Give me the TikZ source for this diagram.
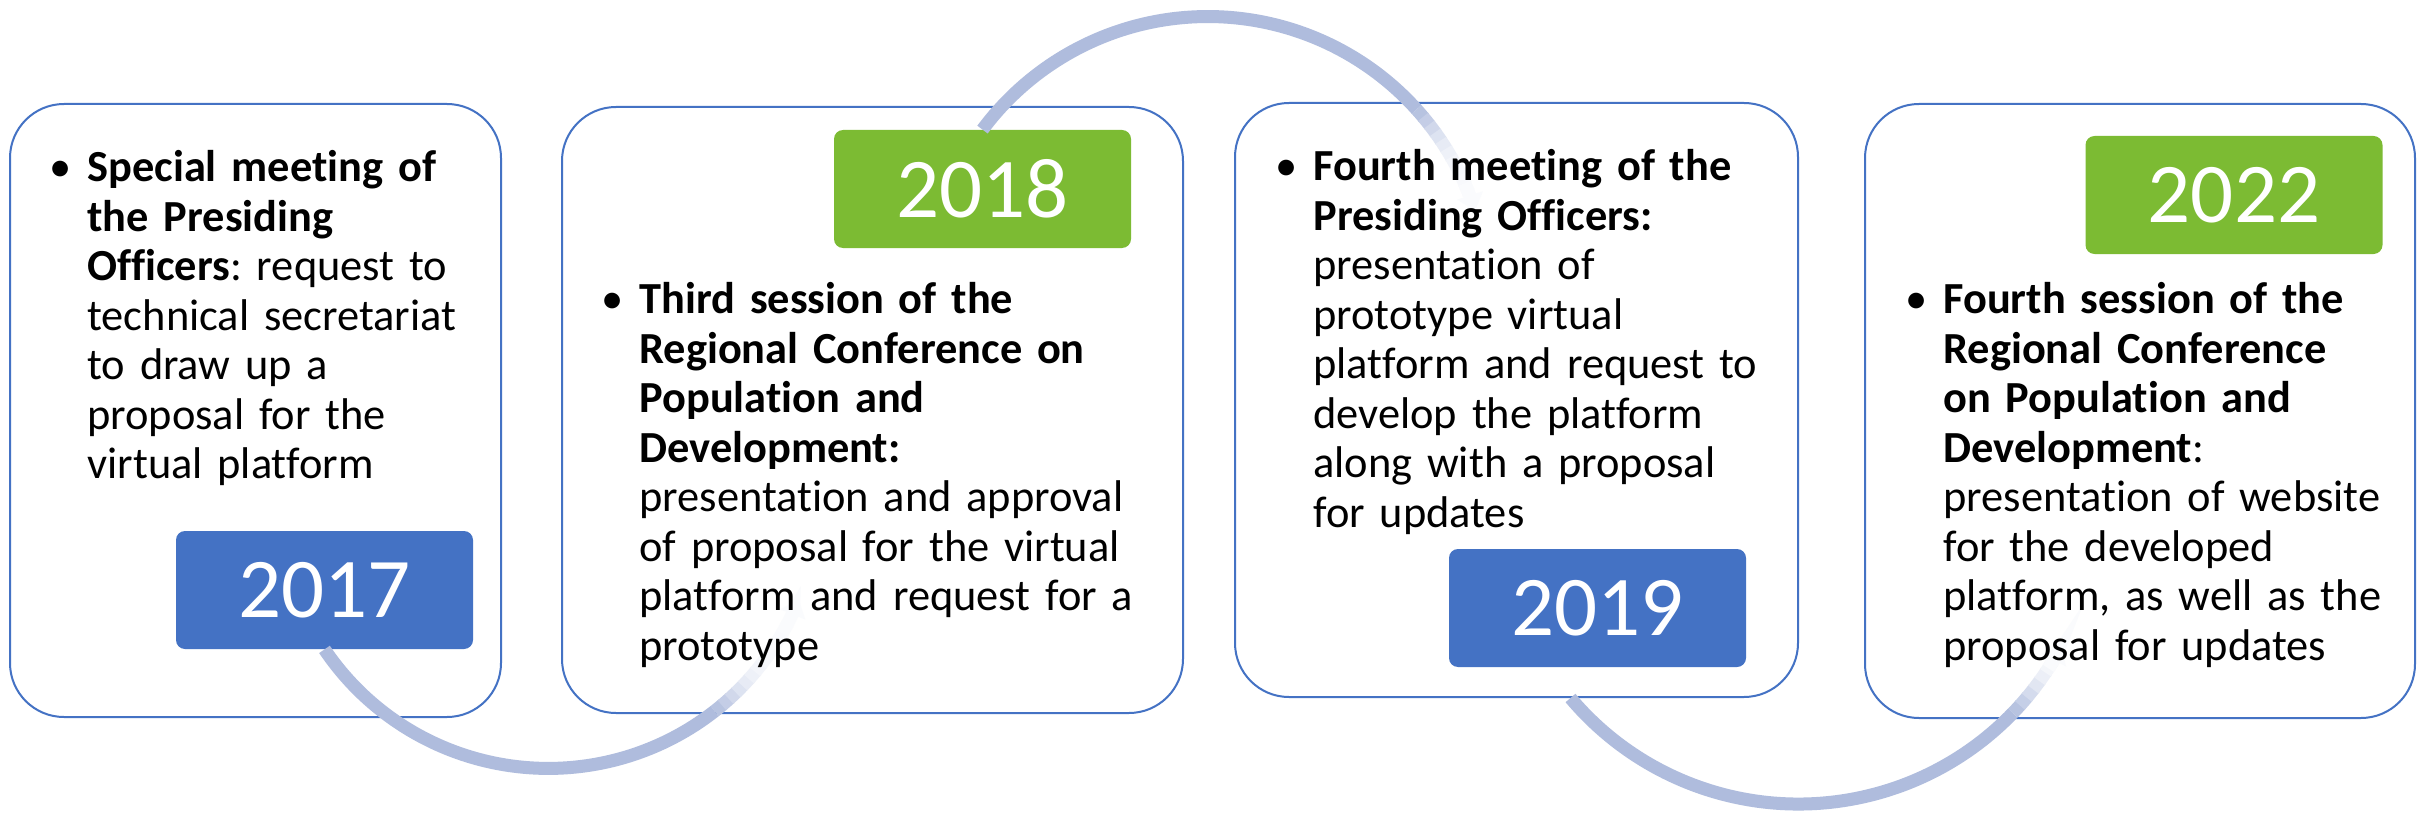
\documentclass[tikz,border=0pt]{standalone}
\usepackage{fontspec}
\setmainfont{Carlito}[Ligatures=NoCommon]
\frenchspacing
\usetikzlibrary{calc,arrows.meta}

\definecolor{boxblue}{HTML}{4472C4}
\definecolor{yeargreen}{HTML}{7CBB33}
\definecolor{arcblue}{HTML}{AFBCDD}

\tikzset{
  panel/.style={draw=boxblue, line width=1pt, fill=white, rounded corners=27pt},
  yearbox/.style={rounded corners=4.5pt, minimum width=148.5pt, minimum height=59pt,
    inner sep=0pt, text=white, font=\fontsize{42.5}{51}\selectfont},
  entry/.style={anchor=base west, inner sep=0pt, text width=270pt, align=left,
    font=\fontsize{22.2}{24.75}\selectfont},
  bul/.style={anchor=base, inner sep=0pt, font=\fontsize{22.2}{24.75}\selectfont},
  arcline/.style={line width=6.5pt, draw=arcblue},
}

\begin{document}
\begin{tikzpicture}[x=0.5pt,y=-0.5pt]
\useasboundingbox (0,0) rectangle (2417,813);
\fill[white] (0,0) rectangle (2417,813);

% panels
\node[panel, minimum width=245.5pt, minimum height=306.5pt] (b1) at (255.5,410.5) {};
\node[panel, minimum width=310.5pt, minimum height=303pt] (b2) at (872.5,410) {};
\node[panel, minimum width=281.5pt, minimum height=297pt] (b3) at (1516.5,400) {};
\node[panel, minimum width=275pt, minimum height=307pt] (b4) at (2140,411) {};

% years
\node[yearbox, fill=boxblue] (y1) at (324.5,590) {2017};
\node[yearbox, fill=yeargreen] (y2) at (982.5,189) {2018};
\node[yearbox, fill=boxblue] (y3) at (1597.5,608) {2019};
\node[yearbox, fill=yeargreen] (y4) at (2234,195) {2022};

% arcs
\coordinate (c1) at ($(y1.south)+(326:270)$);
\draw[arcline] (y1.south) arc[start angle=146, end angle=52, radius=270];
\foreach \a/\p in {52/90,50/74,48/58,46/42,44/30,42/21,40/15,38/11,36/9,34/8,32/7,30/6}
  \draw[arcline, draw=arcblue!\p!white] ($(c1)+(\a:270)$) arc[start angle=\a, end angle=\a-2.3, radius=270];
\draw[arcline, draw=arcblue!6!white, -{Triangle[width=13pt,length=8pt]}]
  ($(c1)+(28:270)$) arc[start angle=28, end angle=22, radius=270];

\coordinate (c2) at ($(y2.north)+(36.7:281)$);
\draw[arcline] (y2.north) arc[start angle=216.7, end angle=318, radius=281];
\foreach \a/\p in {318/90,320/74,322/58,324/42,326/30,328/21,330/15,332/11,334/9,336/7}
  \draw[arcline, draw=arcblue!\p!white] ($(c2)+(\a:281)$) arc[start angle=\a, end angle=\a+2.3, radius=281];
\draw[arcline, draw=arcblue!6!white, -{Triangle[width=13pt,length=8pt]}]
  ($(c2)+(336:281)$) arc[start angle=336, end angle=342, radius=281];

\coordinate (a3) at ($(b3.south)+(54,0)$);
\coordinate (c3) at ($(a3)+(319.9:298)$);
\draw[arcline] (a3) arc[start angle=139.9, end angle=44, radius=298];
\foreach \a/\p in {44/90,42/72,40/54,38/38,36/24,34/14,32/9}
  \draw[arcline, draw=arcblue!\p!white] ($(c3)+(\a:298)$) arc[start angle=\a, end angle=\a-2.3, radius=298];
\draw[arcline, draw=arcblue!6!white, -{Triangle[width=13pt,length=8pt]}]
  ($(c3)+(33:298)$) arc[start angle=33, end angle=28, radius=298];

% texts
\node[entry] (t1) at (87,182) {\textbf{Special meeting of}\\ \textbf{the Presiding}\\
  \textbf{Officers}: request to\\ technical secretariat\\ to draw up a\\
  proposal for the\\ virtual platform};
\node[entry] (t2) at (639,314) {\textbf{Third session of the}\\ \textbf{Regional Conference on}\\
  \textbf{Population and}\\ \textbf{Development:}\\ presentation and approval\\
  of proposal for the virtual\\ platform and request for a\\ prototype};
\node[entry] (t3) at (1313,181) {\textbf{Fourth meeting of the}\\ \textbf{Presiding Officers:}\\
  presentation of\\ prototype virtual\\ platform and request to\\
  develop the platform\\ along with a proposal\\ for updates};
\node[entry] (t4) at (1943,314) {\textbf{Fourth session of the}\\ \textbf{Regional Conference}\\
  \textbf{on Population and}\\ \textbf{Development}:\\ presentation of website\\
  for the developed\\ platform, as well as the\\ proposal for updates};

\node[bul] (d1) at ($(t1.base west)+(-26,0)$) {\textbullet};
\node[bul] (d2) at ($(t2.base west)+(-26,0)$) {\textbullet};
\node[bul] (d3) at ($(t3.base west)+(-26,0)$) {\textbullet};
\node[bul] (d4) at ($(t4.base west)+(-26,0)$) {\textbullet};
\end{tikzpicture}
\end{document}
